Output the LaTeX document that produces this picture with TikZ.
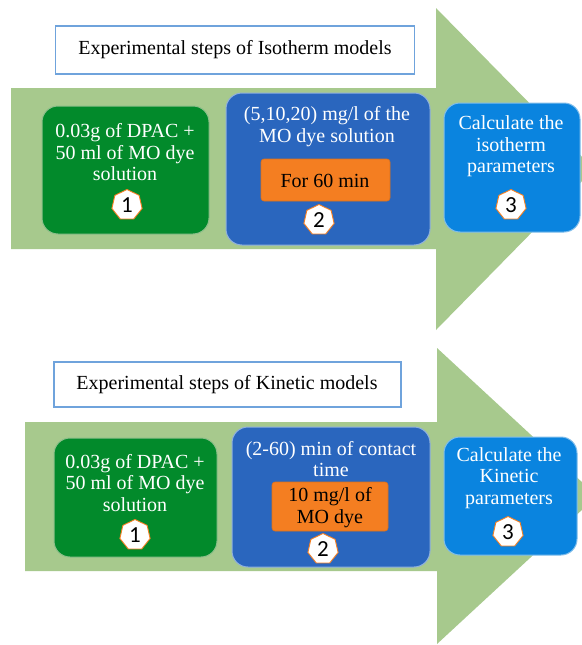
\documentclass[tikz,border=0pt]{standalone}
\usepackage{fontspec}
\setmainfont{Liberation Serif}
\newfontfamily\digitfont{Carlito}
\usetikzlibrary{shapes.geometric}
\definecolor{arrowgreen}{HTML}{A7C98D}
\definecolor{boxgreen}{HTML}{028A2B}
\definecolor{boxgreenedge}{HTML}{8DBF8A}
\definecolor{boxblue}{HTML}{2A66BE}
\definecolor{boxblueedge}{HTML}{8FB0DE}
\definecolor{boxsky}{HTML}{0A84DF}
\definecolor{boxskyedge}{HTML}{7FBDEB}
\definecolor{boxorange}{HTML}{F47E21}
\definecolor{orangeedge}{HTML}{D9701C}
\definecolor{titleedge}{HTML}{6FA3DC}
\begin{document}
\begin{tikzpicture}[x=1pt,y=-1pt,
  stepbox/.style={draw, line width=1pt, rounded corners=16pt, inner sep=0pt},
  titlebox/.style={draw=titleedge, line width=1.1pt, fill=white, inner sep=0pt},
  orangebox/.style={draw=orangeedge, line width=0.6pt, fill=boxorange, rounded corners=3pt, inner sep=0pt},
  boxtext/.style={text=white, align=center, font=\fontsize{20}{21.5}\selectfont, inner sep=0pt},
  darktext/.style={text=black, align=center, font=\fontsize{20}{22.5}\selectfont, inner sep=0pt},
  titletext/.style={text=black, font=\fontsize{20}{22}\selectfont, inner sep=0pt},
  badge/.style={regular polygon, regular polygon sides=7, draw=boxorange, line width=0.9pt, fill=white,
    minimum size=31pt, inner sep=0pt, font=\digitfont\fontsize{23}{23}\selectfont, text=black}
]
\useasboundingbox (0,0) rectangle (581,645);
\fill[white] (0,0) rectangle (581,645);

% ---------- top arrow ----------
\fill[arrowgreen] (11,88) -- (436,88) -- (436,8) -- (594,169) -- (436,330) -- (436,249) -- (11,249) -- cycle;

\node[titlebox, minimum width=359pt, minimum height=48pt] (t1) at (235,50) {};
\node[titletext] (t1txt) at (235,50) {Experimental steps of Isotherm models};

\node[stepbox, draw=boxgreenedge, fill=boxgreen, minimum width=167pt, minimum height=128pt] (a1) at (125.5,170) {};
\node[boxtext] (a1txt) at (125,152.5) {0.03g of DPAC +\\50 ml of MO dye\\solution};
\node[badge] (a1n) at (127,205) {1};

\node[stepbox, draw=boxblueedge, fill=boxblue, minimum width=204pt, minimum height=152pt] (a2) at (328,169) {};
\node[boxtext] (a2txt) at (327,126.5) {(5,10,20) mg/l of the\\MO dye solution};
\node[orangebox, minimum width=129pt, minimum height=42pt] (a2o) at (325.5,180) {};
\node[darktext] (a2otxt) at (325,181) {For 60 min};
\node[badge] (a2n) at (319,220) {2};

\node[stepbox, draw=boxskyedge, fill=boxsky, minimum width=136pt, minimum height=129pt] (a3) at (512,167.5) {};
\node[boxtext] (a3txt) at (511,146.5) {Calculate the\\isotherm\\parameters};
\node[badge] (a3n) at (511,205) {3};

% ---------- bottom arrow ----------
\fill[arrowgreen] (25,422) -- (437,422) -- (437,348) -- (597,496) -- (437,644) -- (437,571) -- (25,571) -- cycle;

\node[titlebox, minimum width=347pt, minimum height=45pt] (t2) at (227.5,384.5) {};
\node[titletext] (t2txt) at (227,384.5) {Experimental steps of Kinetic models};

\node[stepbox, draw=boxgreenedge, fill=boxgreen, minimum width=163pt, minimum height=119pt] (b1) at (135.5,497.5) {};
\node[boxtext] (b1txt) at (135,483) {0.03g of DPAC +\\50 ml of MO dye\\solution};
\node[badge] (b1n) at (135,535) {1};

\node[stepbox, draw=boxblueedge, fill=boxblue, minimum width=198pt, minimum height=140pt] (b2) at (331,497) {};
\node[boxtext] (b2txt) at (331,459) {(2-60) min of contact\\time};
\node[orangebox, minimum width=116pt, minimum height=49pt] (b2o) at (330,506.5) {};
\node[darktext] (b2otxt) at (330,507.5) {10 mg/l of\\MO dye};
\node[badge] (b2n) at (323,549) {2};

\node[stepbox, draw=boxskyedge, fill=boxsky, minimum width=133pt, minimum height=118pt] (b3) at (510.5,496) {};
\node[boxtext] (b3txt) at (509,478) {Calculate the\\Kinetic\\parameters};
\node[badge] (b3n) at (508,532) {3};
\end{tikzpicture}
\end{document}
